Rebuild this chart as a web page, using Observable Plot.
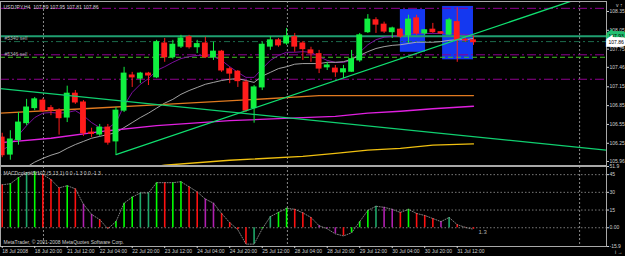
<!DOCTYPE html>
<html><head><meta charset="utf-8">
<script src="https://cdn.jsdelivr.net/npm/d3@7"></script>
<script src="https://cdn.jsdelivr.net/npm/@observablehq/plot@0.6"></script>
<style>
html,body{margin:0;padding:0;background:#000;}
#wrap{position:relative;width:625px;height:256px;background:#000;overflow:hidden;}
#wrap svg{position:absolute;left:0;top:0;}
</style></head><body><div id="wrap"></div>
<script>
// ---- candles (USDJPY H4), bar index 0..58 ----
const opens  = [106.34,106.07,106.30,106.57,106.81,106.93,106.81,106.77,106.66,107.04,106.90,106.42,106.39,106.50,106.28,106.77,107.33,107.28,107.36,107.30,107.84,107.62,107.79,107.94,107.78,107.84,107.62,107.71,107.43,107.39,107.22,106.81,107.14,107.79,107.89,107.84,107.94,107.84,107.73,107.67,107.46,107.44,107.38,107.39,107.57,108.02,108.21,108.14,108.02,108.06,107.97,108.24,108.00,108.06,108.02,107.98,108.18,107.90,107.89];
const highs  = [106.41,106.45,106.74,106.95,106.98,106.96,106.85,106.80,107.16,107.09,106.93,106.49,106.55,106.55,106.82,107.46,107.38,107.38,107.38,107.89,107.92,107.89,107.97,107.97,107.89,107.94,107.86,107.73,107.46,107.41,107.25,107.17,107.86,107.95,107.92,108.08,108.00,107.87,107.78,107.73,107.54,107.49,107.49,107.73,108.00,108.30,108.25,108.18,108.10,108.08,108.29,108.29,108.06,108.16,108.03,108.24,108.41,107.93,107.95];
const lows   = [106.02,105.98,106.22,106.53,106.77,106.74,106.69,106.38,106.58,106.87,106.36,106.34,106.36,106.22,106.07,106.74,107.14,107.20,107.17,107.28,107.54,107.59,107.76,107.75,107.68,107.60,107.57,107.38,107.20,107.14,106.74,106.57,107.09,107.73,107.78,107.81,107.70,107.57,107.54,107.36,107.41,107.30,107.28,107.38,107.54,108.00,108.00,108.00,107.92,107.92,107.84,107.97,107.97,108.00,107.98,107.97,107.54,107.86,107.81];
const closes = [106.06,106.31,106.58,106.82,106.95,106.77,106.77,106.65,107.04,106.90,106.41,106.40,106.50,106.26,106.77,107.36,107.30,107.36,107.33,107.86,107.62,107.82,107.92,107.78,107.83,107.62,107.71,107.41,107.36,107.24,106.77,107.14,107.82,107.89,107.81,107.95,107.79,107.75,107.68,107.44,107.49,107.38,107.43,107.59,107.97,108.22,108.14,108.03,108.08,107.95,108.22,108.00,108.05,108.02,108.00,108.21,107.90,107.89,107.86];

// ---- moving averages ----
const fastMA = [106.14,106.22,106.38,106.53,106.66,106.73,106.74,106.73,106.74,106.77,106.69,106.58,106.50,106.49,106.58,106.85,107.06,107.19,107.28,107.41,107.47,107.54,107.60,107.63,107.65,107.65,107.63,107.57,107.47,107.38,107.30,107.30,107.44,107.57,107.65,107.70,107.70,107.71,107.70,107.63,107.57,107.54,107.54,107.57,107.70,107.82,107.90,107.94,107.95,107.97,108.00,108.00,108.00,108.00,108.00,108.00,108.00,107.98,107.97];
const grayStart = 3;
const grayMA = [105.87,105.95,106.01,106.06,106.10,106.17,106.23,106.28,106.33,106.36,106.39,106.42,106.50,106.58,106.66,106.73,106.81,106.89,106.95,107.03,107.09,107.14,107.19,107.22,107.25,107.27,107.28,107.25,107.22,107.32,107.38,107.44,107.47,107.51,107.52,107.52,107.52,107.54,107.54,107.55,107.59,107.65,107.71,107.76,107.79,107.81,107.82,107.84,107.86,107.86,107.86,107.87,107.89,107.90,107.90,107.92];
const orangeIdx = [-0.2,10,20,30,39,48,58];
const orangeMA  = [106.73,106.80,106.87,106.94,107.01,107.01,107.01];
const magentaIdx = [-0.2,6,13,19,28,37,41,45,49,53,58];
const magentaMA  = [106.26,106.33,106.45,106.53,106.61,106.66,106.68,106.73,106.76,106.80,106.84];
const yellowIdx = [18,20,28,37,41,45,49,53,58];
const yellowMA  = [105.87,105.90,105.98,106.04,106.09,106.14,106.17,106.22,106.24];

// ---- drawn objects ----
const trendUp   = {i: [14, 72], p: [106.07, 108.60]};
const trendDown = {i: [-0.2, 74.4], p: [107.12, 106.14]};
const boxes = [{x1: 49.0, x2: 52.1, y1: 107.70, y2: 108.38}, {x1: 54.2, x2: 58.0, y1: 107.58, y2: 108.43}];
const purpleLevels = [108.40, 107.66, 107.27];
const teaLevel = 107.955, teaLabel = "107.93";
const orderLevels = [107.87, 107.62];
const orderLabels = ["#5340 sell", "#5346 sell"];
const bidPrice = 107.86;
const separators = [5.08, 35.1, 71.06];

// ---- MACD ----
const macd = [36.4,37.3,42.5,46.8,47.7,45.1,40.8,33.8,35.6,33.0,19.9,11.3,6.9,-0.9,5.2,20.8,26.0,29.5,29.5,38.2,38.2,38.2,39.0,34.7,30.4,24.3,20.8,12.1,4.3,-1.7,-13.9,-13.9,-1.0,9.5,13.0,16.5,15.6,12.6,8.7,1.7,-0.9,-5.2,-6.9,-4.3,5.2,14.7,18.2,17.3,15.6,13.0,15.6,12.1,10.4,7.8,5.2,8.7,2.6,0.3,-1.3];
const macdKind = ["r","g","g","t","g","r","r","r","g","r","p","p","r","r","g","g","g","t","t","g","r","g","g","r","r","p","p","r","r","r","r","t","g","t","g","g","r","r","r","p","p","p","r","g","g","g","t","p","p","r","g","r","r","r","p","t","r","r","r"];
const macdGrid = [45, 30, 15, 0];
const macdTicks = [51.9, 45, 30, 15, 0, -15.9];
const macdTickText = ["51.9", "45", "30", "15", "0.00", "-15.9"];

// ---- axes text ----
const priceTicks = [108.35, 108.05, 107.75, 107.46, 107.15, 106.85, 106.55, 106.25, 105.96];
const timeIdx = [0,4,8,12,16,20,24,28,32,36,40,44,48,52,56];
const timeLabels = ["18 Jul 2008","18 Jul 20:00","21 Jul 12:00","22 Jul 04:00","22 Jul 20:00","23 Jul 12:00","24 Jul 04:00","24 Jul 20:00","25 Jul 12:00","28 Jul 04:00","28 Jul 20:00","29 Jul 12:00","30 Jul 04:00","30 Jul 20:00","31 Jul 12:00"];
const title = "USDJPY,H4  107.89 107.95 107.81 107.86";
const macdTitle = "MACDcoloredv102 (5,13,1) 0.0 -1.3 0.0 -1.3";
const copyright = "MetaTrader, \u00a9 2001-2008 MetaQuotes Software Corp.";
const macdLast = "1.3";

// ================= drawing =================
const W = 625, H = 256;
const xDomain = [-0.21, 74.37];
const UP = "#10f040", DN = "#ff1c1c";
const TXT = "#d0d0d0", BORDER = "#a8a8a8";
const FONT = "Liberation Sans, Arial, sans-serif";
const bars = opens.map((o, i) => ({i, o, h: highs[i], l: lows[i], c: closes[i], up: closes[i] >= o}));
const ser = (idx, vals) => vals.map((p, k) => ({i: idx(k), p}));
const kindColor = {g: "#00ff00", t: "#1fa86a", r: "#ff1010", p: "#b020b0"};

const upper = Plot.plot({
  width: W, height: H, marginLeft: 0, marginRight: 19, marginTop: 1, marginBottom: 91,
  style: {background: "transparent", color: TXT, fontFamily: FONT, fontSize: "5px"},
  x: {domain: xDomain, axis: null},
  y: {domain: [105.896, 108.509], axis: null},
  marks: [
    Plot.rect(boxes, {x1: "x1", x2: "x2", y1: "y1", y2: "y2", fill: "#1438f0"}),
    Plot.ruleX(separators, {x: d => d, stroke: "#8a8a8a", strokeDasharray: "2,2", strokeWidth: 1}),
    Plot.ruleY(purpleLevels, {y: d => d, stroke: "#8e008e", strokeDasharray: "9,3,2,3", strokeWidth: 1}),
    Plot.ruleY([orderLevels[0]], {y: d => d, stroke: "#1c6a4c", strokeDasharray: "6,3,2,3", strokeWidth: 1}),
    Plot.ruleY([orderLevels[1]], {y: d => d, stroke: "#40c020", strokeDasharray: "5,3", strokeWidth: 1}),
    Plot.ruleY([teaLevel], {y: d => d, stroke: "#1f9f70", strokeWidth: 1.8}),
    Plot.line(ser(k => k, fastMA), {x: "i", y: "p", stroke: "#8a10b0", strokeWidth: 0.9, clip: true}),
    Plot.line(ser(k => k + grayStart, grayMA), {x: "i", y: "p", stroke: "#b4b4b4", strokeWidth: 0.9, clip: true}),
    Plot.line(ser(k => orangeIdx[k], orangeMA), {x: "i", y: "p", stroke: "#e07a20", strokeWidth: 1.3, clip: true}),
    Plot.line(ser(k => magentaIdx[k], magentaMA), {x: "i", y: "p", stroke: "#e020e0", strokeWidth: 1.3, clip: true}),
    Plot.line(ser(k => yellowIdx[k], yellowMA), {x: "i", y: "p", stroke: "#f0c010", strokeWidth: 1.3, clip: true}),
    Plot.ruleX(bars, {x: "i", y1: "l", y2: "h", stroke: d => d.up ? UP : DN, strokeWidth: 1}),
    Plot.rect(bars, {x1: d => d.i - 0.36, x2: d => d.i + 0.36, y1: d => Math.min(d.o, d.c), y2: d => Math.max(d.o, d.c),
      fill: d => d.up ? UP : DN, insetTop: -0.5, insetBottom: -0.5}),
    Plot.line(ser(k => trendUp.i[k], trendUp.p), {x: "i", y: "p", stroke: "#10e070", strokeWidth: 1.3, clip: true}),
    Plot.line(ser(k => trendDown.i[k], trendDown.p), {x: "i", y: "p", stroke: "#10d070", strokeWidth: 1.3, clip: true}),
    Plot.text(orderLabels, {y: (d, k) => orderLevels[k], text: d => d, frameAnchor: "left", textAnchor: "start", dx: 4, dy: -3, fill: "#b0b0b0", fontSize: 5}),
    Plot.text([title], {text: d => d, frameAnchor: "top-left", textAnchor: "start", dx: 3, dy: 4, fill: TXT, fontSize: 5}),
    Plot.frame({stroke: BORDER}),
    Plot.axisY({anchor: "right", ticks: priceTicks, tickFormat: d => d.toFixed(2), tickSize: 2, tickPadding: 1, fontSize: 5, fill: TXT}),
    Plot.text([teaLabel], {y: teaLevel, text: d => d, frameAnchor: "right", textAnchor: "start", dx: 2, fill: "#000", stroke: "#20c070", strokeWidth: 5.5, strokeLinejoin: "miter", paintOrder: "stroke", fontSize: 5}),
    Plot.text([bidPrice], {y: d => d, text: d => d.toFixed(2), frameAnchor: "right", textAnchor: "start", dx: 2, fill: "#000", stroke: "#ffffff", strokeWidth: 5.5, strokeLinejoin: "miter", paintOrder: "stroke", fontSize: 5})
  ]
});

const macdData = macd.map((v, i) => ({i, v, k: macdKind[i]}));
const lower = Plot.plot({
  width: W, height: H, marginLeft: 0, marginRight: 19, marginTop: 166, marginBottom: 10,
  style: {background: "transparent", color: TXT, fontFamily: FONT, fontSize: "5px"},
  x: {domain: xDomain, axis: null},
  y: {domain: [-15.9, 51.9], axis: null},
  marks: [
    Plot.ruleY(macdGrid, {y: d => d, stroke: "#7a7a7a", strokeDasharray: "1.5,2", strokeWidth: 1}),
    Plot.ruleX(separators, {x: d => d, stroke: "#8a8a8a", strokeDasharray: "2,2", strokeWidth: 1}),
    Plot.ruleX(macdData, {x: "i", y1: 0, y2: "v", stroke: d => kindColor[d.k], strokeWidth: 1.6}),
    Plot.line(macdData, {x: "i", y: "v", stroke: "#a0a0a0", strokeDasharray: "1,1.5", strokeWidth: 0.8}),
    Plot.text([macdTitle], {text: d => d, frameAnchor: "top-left", textAnchor: "start", dx: 3, dy: 5, fill: TXT, fontSize: 5}),
    Plot.text([copyright], {text: d => d, frameAnchor: "bottom-left", textAnchor: "start", dx: 3, dy: -3, fill: TXT, fontSize: 5}),
    Plot.text([macdLast], {x: macd.length - 1, y: macd[macd.length - 1], text: d => d, textAnchor: "start", dx: 5, dy: 3, fill: "#b0b0b0", fontSize: 6}),
    Plot.frame({stroke: BORDER}),
    Plot.axisY({anchor: "right", ticks: macdTicks, tickFormat: d => macdTickText[macdTicks.indexOf(d)], tickSize: 2, tickPadding: 1, fontSize: 5, fill: TXT}),
    Plot.axisX({anchor: "bottom", ticks: timeIdx, tickFormat: d => timeLabels[timeIdx.indexOf(d)], tickSize: 2, tickPadding: 1, textAnchor: "start", fontSize: 5, fill: TXT})
  ]
});

const wrap = document.getElementById("wrap");
wrap.appendChild(upper);
wrap.appendChild(lower);
</script>
</body></html>
